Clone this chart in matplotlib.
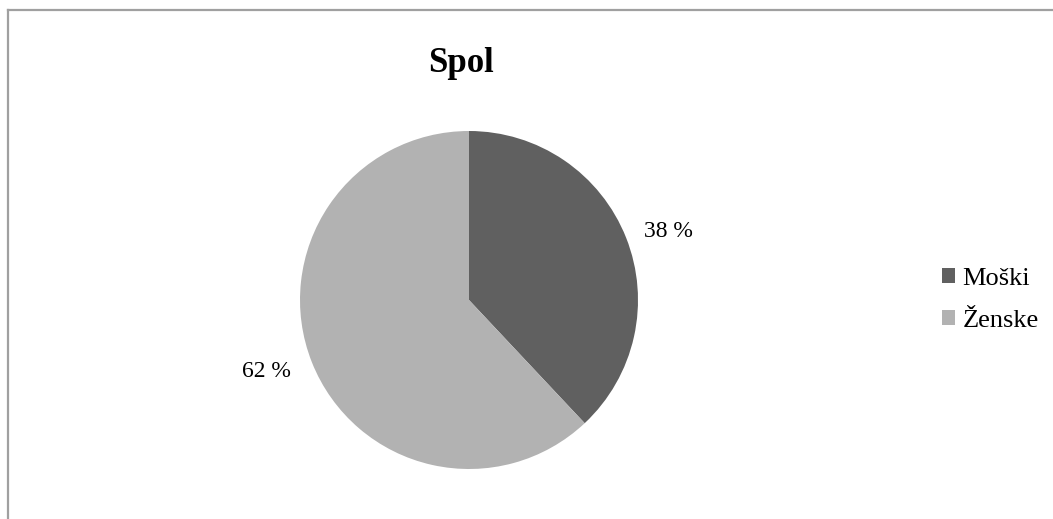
import numpy as np
import matplotlib.pyplot as plt
from matplotlib.patches import Patch
from matplotlib.lines import Line2D

plt.rcParams['font.family'] = ['Liberation Serif', 'DejaVu Serif']

# data
labels = ['Moški', 'Ženske']
shares = [38, 62]
colors = ['#606060', '#b2b2b2']
title = 'Spol'

# where the value labels sit (angle in degrees, distance in radii)
label_angles = [19, 199.5]
label_dist = [1.25, 1.27]

W, H = 1053, 519
fig = plt.figure(figsize=(W / 100, H / 100), dpi=100)

# chart border (only top and left edges are visible in the crop)
border = '#a0a0a0'
fig.add_artist(Line2D([8 / W, 8 / W], [0, 1 - 10 / H], color=border, lw=1.6,
                      transform=fig.transFigure))
fig.add_artist(Line2D([8 / W, 1], [1 - 10 / H, 1 - 10 / H], color=border, lw=1.6,
                      transform=fig.transFigure))

# pie axes: centre (469, 300) px from top, radius 169 px
cx, cy, r = 469, H - 300, 169
ax = fig.add_axes([(cx - r) / W, (cy - r) / H, 2 * r / W, 2 * r / H])
wedges, texts, autotexts = ax.pie(
    shares, colors=colors, startangle=90, counterclock=False,
    autopct=lambda p: f'{p:.0f} %', pctdistance=1.25,
    wedgeprops=dict(linewidth=0), textprops=dict(fontsize=17, color='black'))
for t, a, d in zip(autotexts, label_angles, label_dist):
    t.set_position((d * np.cos(np.radians(a)), d * np.sin(np.radians(a))))
ax.set_aspect('equal')
ax.set_xlim(-1, 1)
ax.set_ylim(-1, 1)

fig.text(461 / W, 1 - 72 / H, title, ha='center', va='baseline',
         fontsize=25, fontweight='bold')

handles = [Patch(facecolor=c, edgecolor='none') for c in colors]
fig.legend(handles, labels, loc='center left', bbox_to_anchor=(942 / W, 1 - 300 / H),
           frameon=False, fontsize=19, handlelength=0.5, handleheight=0.5,
           handletextpad=0.27, labelspacing=0.75, borderpad=0, borderaxespad=0)

fig.savefig('out.png', dpi=100)
